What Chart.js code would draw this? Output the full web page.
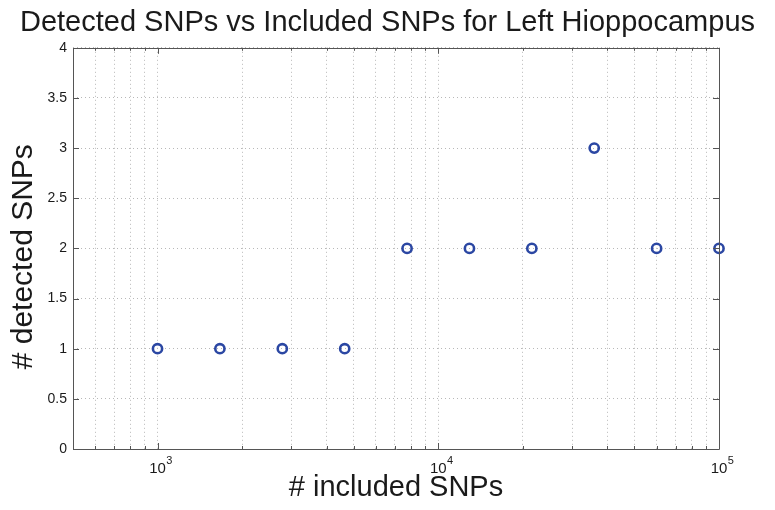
<!DOCTYPE html>
<html>
<head>
<meta charset="utf-8">
<script src="https://cdn.jsdelivr.net/npm/chart.js@4/dist/chart.umd.min.js"></script>
<style>
  html, body { margin: 0; padding: 0; background: #fff; }
  #wrap { width: 775px; height: 510px; }
</style>
</head>
<body>
<div id="wrap"><canvas id="c" width="775" height="510"></canvas></div>
<script>
// Data
const includedSNPs = [1000, 1668, 2783, 4642, 7743, 12915, 21544, 35938, 59948, 100000];
const detectedSNPs = [1, 1, 1, 1, 2, 2, 2, 3, 2, 2];
const xTickValues = [600, 700, 800, 900, 1000, 2000, 3000, 4000, 5000, 6000, 7000, 8000, 9000,
                     10000, 20000, 30000, 40000, 50000, 60000, 70000, 80000, 90000, 100000];
const xMajorExponents = { 1000: '3', 10000: '4', 100000: '5' };
const yTickValues = [0, 0.5, 1, 1.5, 2, 2.5, 3, 3.5, 4];

const FONT = "'Liberation Sans', Arial, Helvetica, sans-serif";
const AXIS = '#555555';
const TEXT = '#1a1a1a';
const X_TICK_SIZE = 15;
const X_TICK_PAD = 9;

// plugin: box frame + inward ticks on all four sides (MATLAB style), plus exponents
const boxTicks = {
  id: 'boxTicks',
  afterDraw(chart) {
    const { ctx, chartArea: a, scales } = chart;
    const x = scales.x, y = scales.y;
    ctx.save();
    ctx.strokeStyle = AXIS;
    ctx.lineWidth = 1;
    ctx.beginPath();
    xTickValues.forEach(v => {
      const px = Math.round(x.getPixelForValue(v)) + 0.5;
      const len = xMajorExponents[v] ? 6 : 3;
      ctx.moveTo(px, a.bottom); ctx.lineTo(px, a.bottom - len);
      ctx.moveTo(px, a.top); ctx.lineTo(px, a.top + len);
    });
    yTickValues.forEach(v => {
      const py = Math.round(y.getPixelForValue(v)) + 0.5;
      ctx.moveTo(a.left, py); ctx.lineTo(a.left + 6, py);
      ctx.moveTo(a.right, py); ctx.lineTo(a.right - 6, py);
    });
    ctx.stroke();
    ctx.beginPath();
    ctx.rect(Math.round(a.left) + 0.5, Math.round(a.top) + 0.5,
             Math.round(a.right - a.left), Math.round(a.bottom - a.top));
    ctx.stroke();

    // exponents of the 10^n labels
    ctx.font = X_TICK_SIZE + 'px ' + FONT;
    const baseW = ctx.measureText('10').width;
    ctx.font = '11px ' + FONT;
    ctx.fillStyle = TEXT;
    ctx.textAlign = 'left';
    ctx.textBaseline = 'alphabetic';
    Object.keys(xMajorExponents).forEach(k => {
      const px = x.getPixelForValue(Number(k));
      ctx.fillText(xMajorExponents[k], px + baseW / 2 + 0.5, a.bottom + X_TICK_PAD + 6);
    });
    ctx.restore();
  }
};

new Chart(document.getElementById('c'), {
  type: 'scatter',
  data: {
    datasets: [{
      data: includedSNPs.map((v, i) => ({ x: v, y: detectedSNPs[i] })),
      pointStyle: 'circle',
      pointRadius: 4.6,
      pointBorderWidth: 2.6,
      pointBorderColor: '#2b47a3',
      pointBackgroundColor: 'rgba(0,0,0,0)',
      showLine: false,
      clip: false
    }]
  },
  options: {
    responsive: false,
    animation: false,
    devicePixelRatio: 1,
    layout: { padding: 0 },
    plugins: {
      legend: { display: false },
      tooltip: { enabled: false },
      title: {
        display: true,
        text: 'Detected SNPs vs Included SNPs for Left Hioppocampus',
        color: TEXT,
        font: { family: FONT, size: 29, weight: 'normal' },
        padding: { top: 6, bottom: 7 },
        fullSize: true
      }
    },
    scales: {
      x: {
        type: 'logarithmic',
        min: 500,
        max: 100000,
        afterBuildTicks(scale) { scale.ticks = xTickValues.map(v => ({ value: v })); },
        afterFit(scale) { scale.height = 61; },
        grid: { color: '#b8b8b8', lineWidth: 1, drawTicks: false },
        border: { display: false, dash: [1, 3] },
        ticks: {
          autoSkip: false, maxRotation: 0, minRotation: 0, padding: X_TICK_PAD + 2,
          color: TEXT,
          font: { family: FONT, size: X_TICK_SIZE },
          callback: (v) => xMajorExponents[v] ? '10' : ''
        },
        title: {
          display: true, text: '# included SNPs', color: TEXT,
          font: { family: FONT, size: 29 },
          padding: { top: 0, bottom: 5 }
        }
      },
      y: {
        min: 0, max: 4,
        afterBuildTicks(scale) { scale.ticks = yTickValues.map(v => ({ value: v })); },
        afterFit(scale) { scale.width = 73; },
        grid: { color: '#b8b8b8', lineWidth: 1, drawTicks: false },
        border: { display: false, dash: [1, 3] },
        ticks: {
          padding: 6, color: TEXT,
          font: { family: FONT, size: 14 },
          callback: (v) => String(v)
        },
        title: {
          display: true, text: '# detected SNPs  ', color: TEXT,
          font: { family: FONT, size: 30 },
          padding: { top: 6, bottom: 0 }
        }
      },
      yRight: {
        position: 'right',
        display: true,
        afterFit(scale) { scale.width = 56; },
        grid: { display: false, drawOnChartArea: false },
        border: { display: false },
        ticks: { display: false }
      }
    }
  },
  plugins: [boxTicks]
});
</script>
</body>
</html>
